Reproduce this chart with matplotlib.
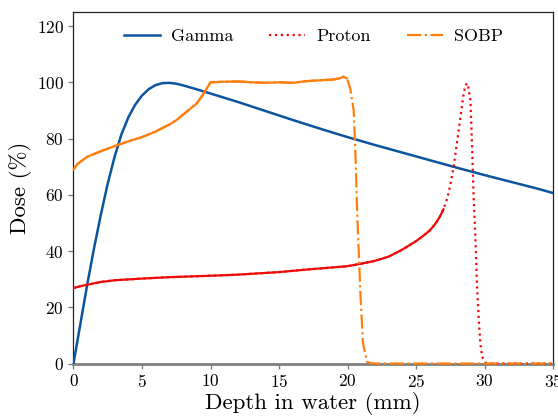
import numpy as np
import matplotlib
matplotlib.use("Agg")
import matplotlib.pyplot as plt

plt.rcParams['font.family'] = 'serif'
plt.rcParams['font.serif'] = ['cmr10']
plt.rcParams['mathtext.fontset'] = 'cm'
plt.rcParams['axes.formatter.use_mathtext'] = True

# depth dose curves (depth in mm, dose in %)
gamma_depth = [0, 0.5, 1, 1.5, 2, 2.5, 3, 3.5, 4, 4.5, 5, 5.5, 6, 6.5, 7, 7.5, 8, 9,
               10, 12, 14, 16, 18, 20, 22, 24, 26, 28, 30, 32, 34, 35]
gamma_dose = [0, 14, 28, 41, 53, 64, 73.5, 81.5, 87.5, 92, 95.3, 97.6, 99, 99.7, 99.8,
              99.5, 98.9, 97.5, 96, 93, 89.8, 86.6, 83.5, 80.5, 77.7, 75, 72.3, 69.6,
              67, 64.5, 62, 60.6]

proton_depth = [0, 0.5, 1, 2, 3, 5, 7, 10, 12, 15, 17, 20, 21, 22, 23, 23.6, 24, 24.5,
                25, 25.5, 26, 26.25, 26.5, 26.75, 27, 27.3, 27.5, 27.75, 28, 28.25,
                28.45, 28.6, 28.77, 28.97, 29.1, 29.2, 29.33, 29.45, 29.58, 29.7, 29.82,
                30.1, 30.5, 32, 35]
proton_dose = [26.8, 27.5, 28, 29, 29.6, 30.2, 30.7, 31.2, 31.6, 32.5, 33.4, 34.6, 35.5,
               36.5, 38, 39.5, 40.5, 42, 43.5, 45.3, 47.3, 48.7, 50.3, 52.3, 54.8, 59,
               63.5, 70, 79, 87.8, 95, 99, 99.6, 93.7, 75.9, 60, 45, 28, 15.5, 7, 2.4,
               0.2, 0, 0, 0]

sobp_depth = [0, 0.3, 1, 2, 3, 4, 5, 6, 7, 7.5, 8, 8.5, 9, 9.5, 10, 11, 12, 13, 14, 15,
              16, 17, 18, 19, 19.5, 19.7, 19.96, 20.2, 20.45, 20.57, 20.7, 20.85, 20.94,
              21.13, 21.42, 21.7, 22, 25, 30, 35]
sobp_dose = [69, 71, 73.5, 75.5, 77.3, 79, 80.5, 82.5, 85, 86.5, 88.5, 90.5, 92.5, 96,
             100, 100.2, 100.3, 100, 99.8, 100, 99.8, 100.4, 100.7, 101, 101.5, 102,
             101.4, 97.8, 90, 75.9, 54.6, 36, 25, 7.2, 0.6, 0.1, 0, 0, 0, 0]

blue = '#0b559f'
red = '#f00a0a'
orange = '#ff7f0e'

fig = plt.figure(figsize=(5.58, 4.16), dpi=100)
ax = fig.add_axes([0.1317, 0.1262, 0.8594, 0.8450])

ax.plot(gamma_depth, gamma_dose, color=blue, lw=1.8, label='Gamma', zorder=3)

# noisy plateau regions look solid in the reference, the steep falloffs keep the dash pattern
pd_ = np.array(proton_depth)
pv = np.array(proton_dose)
ax.plot(pd_, pv, color=red, lw=1.6, ls=':', label='Proton', zorder=3, clip_on=False)
m = pd_ <= 27
ax.plot(pd_[m], pv[m], color=red, lw=1.6, zorder=3)

sd = np.array(sobp_depth)
sv = np.array(sobp_dose)
ax.plot(sd, sv, color=orange, lw=1.6, ls='-.', label='SOBP', zorder=3, clip_on=False)
m = sd <= 20.0
ax.plot(sd[m], sv[m], color=orange, lw=1.6, zorder=3)

ax.set_xlim(0, 35)
ax.set_ylim(0, 125)
ax.set_xticks(range(0, 36, 5))
ax.set_yticks(range(0, 121, 20))
ax.tick_params(labelsize=12.5, color='#808080', length=3.5, width=1)
ax.spines['bottom'].set_color('#808080')
ax.spines['bottom'].set_linewidth(2)
for s in ['left', 'top', 'right']:
    ax.spines[s].set_color('#222222')
    ax.spines[s].set_linewidth(0.9)

ax.set_xlabel('Depth in water (mm)', fontsize=16.5, labelpad=1)
ax.set_ylabel('Dose (%)', fontsize=16.5, labelpad=3)

ax.legend(loc='upper center', ncol=3, frameon=False, fontsize=13,
          handlelength=2.0, handletextpad=0.6, columnspacing=2.0)

fig.savefig('out.png', dpi=100)
